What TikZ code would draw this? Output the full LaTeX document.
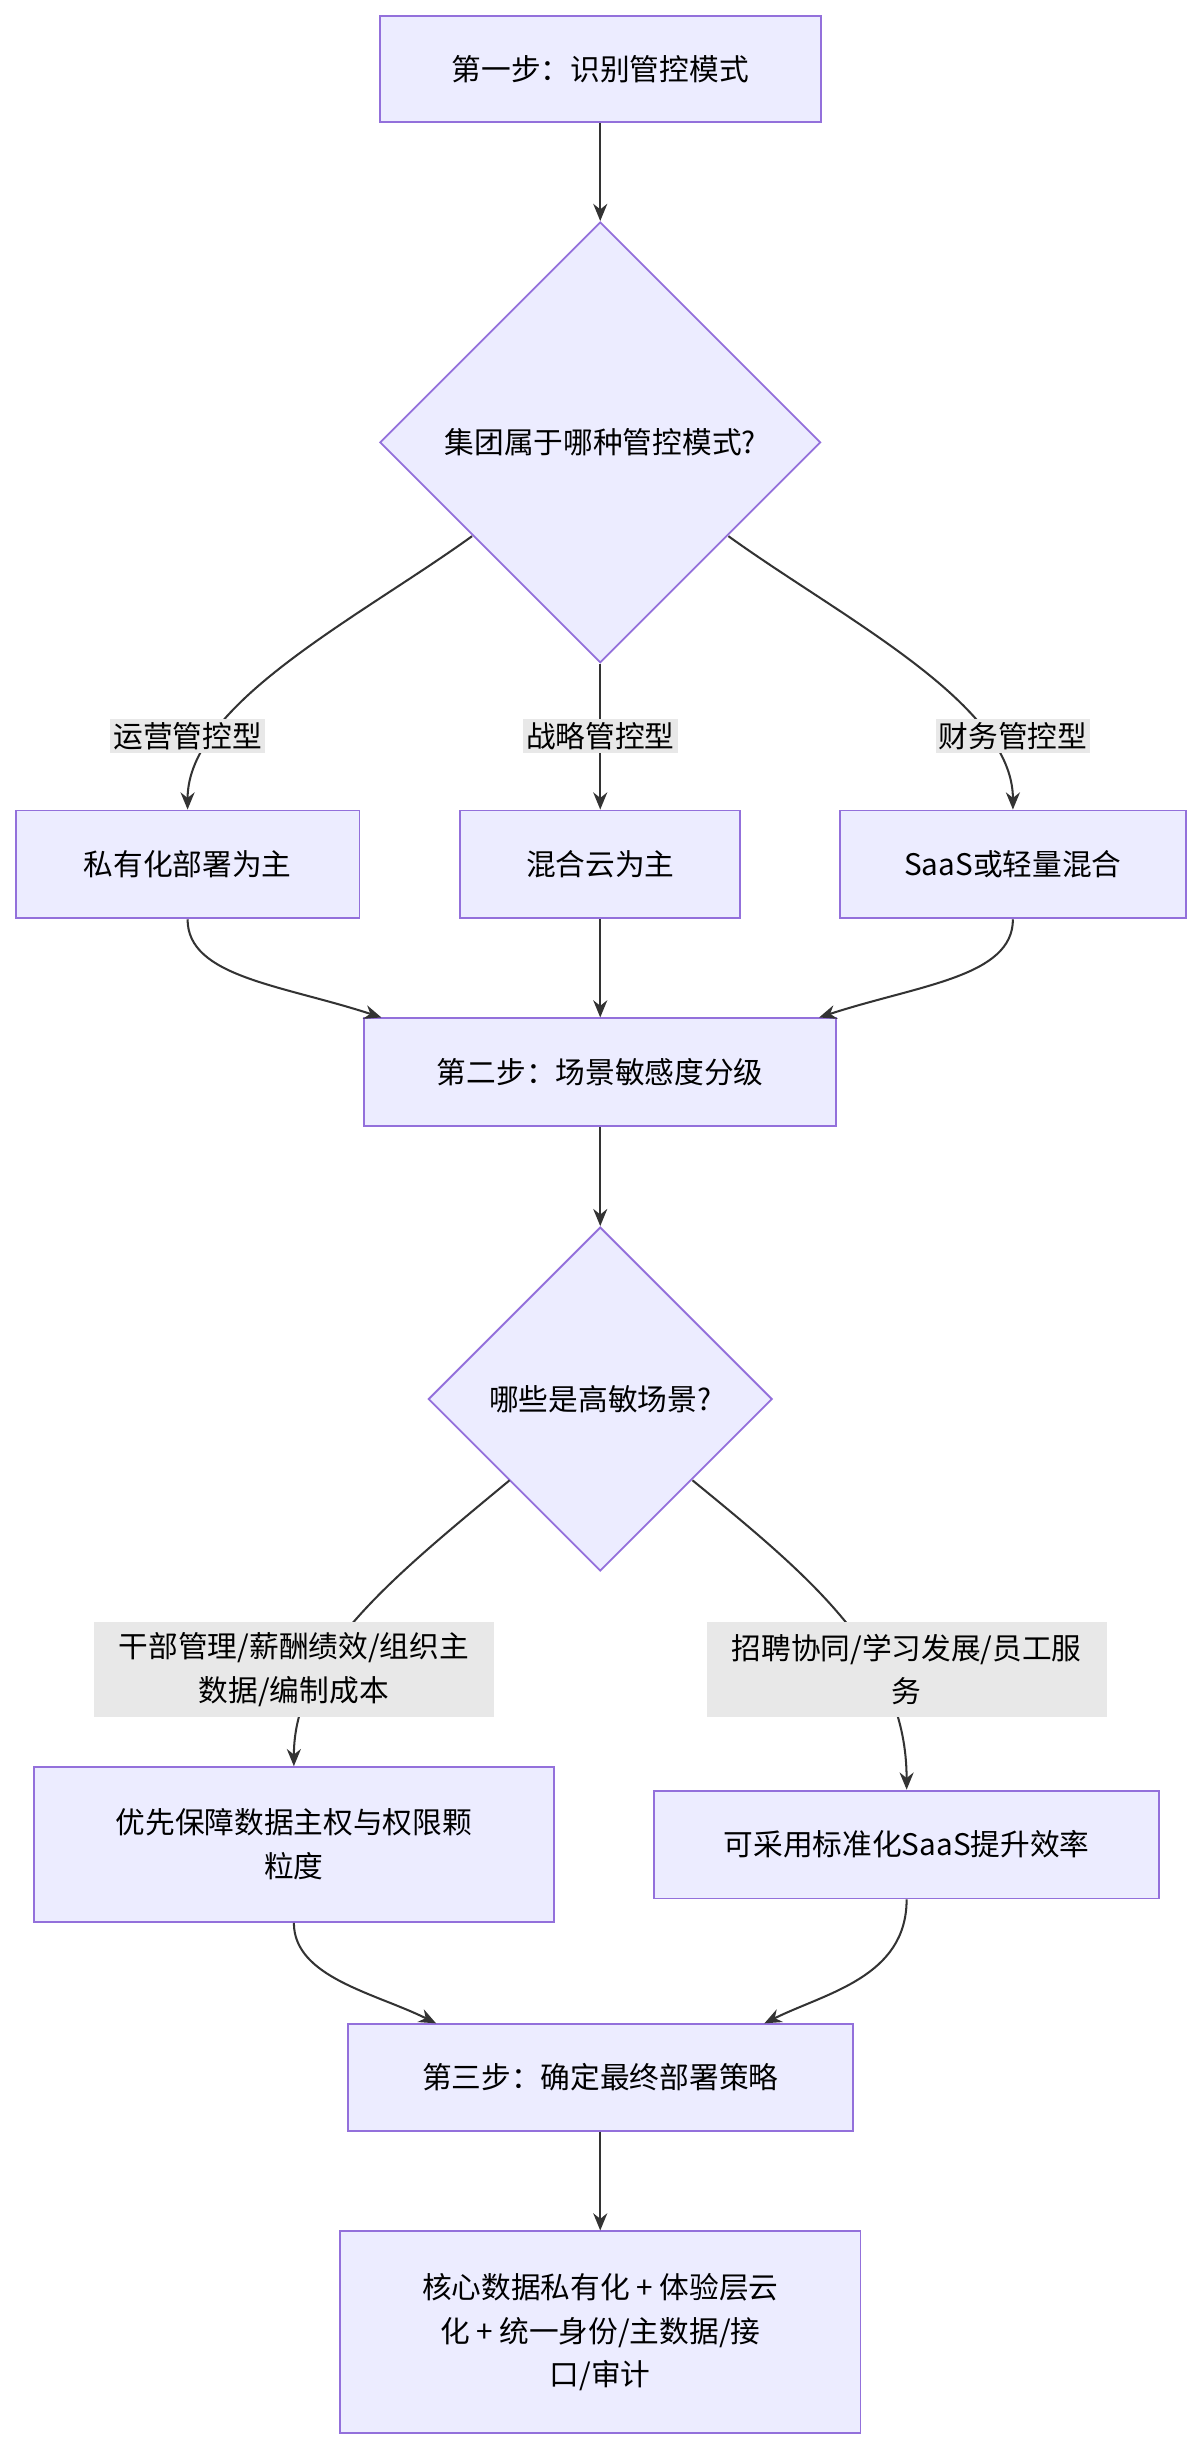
\documentclass[tikz,border=0pt]{standalone}
\usepackage{fontspec}
\setmainfont{Noto Sans CJK SC}
\usetikzlibrary{shapes.geometric,arrows.meta,calc}
\definecolor{nf}{HTML}{ECECFF}
\definecolor{ns}{HTML}{9370DB}
\definecolor{ed}{HTML}{333333}
\definecolor{lb}{HTML}{E8E8E8}
\begin{document}
\begin{tikzpicture}[x=1pt,y=-1pt,
 box/.style={draw=ns,fill=nf,line width=1.2pt,font=\fontsize{19}{28}\selectfont,align=center,inner sep=0pt},
 dia/.style={diamond,draw=ns,fill=nf,line width=1.2pt,font=\fontsize{19}{28}\selectfont,inner sep=0pt,aspect=1},
 lab/.style={fill=lb,font=\fontsize{19}{28}\selectfont,align=center,inner sep=2pt},
 arr/.style={draw=ed,line width=1.3pt,-{Stealth[length=11pt,width=9pt]}}]
\useasboundingbox (0,0) rectangle (768,1568);
\node[box,minimum width=282,minimum height=68] (s1) at (384,44) {第一步：识别管控模式};
\node[dia,minimum width=282,minimum height=282] (d1) at (384,283) {集团属于哪种管控模式?};
\node[box,minimum width=220,minimum height=69] (b1) at (120,553) {私有化部署为主};
\node[box,minimum width=179,minimum height=69] (b2) at (384,553) {混合云为主};
\node[box,minimum width=221,minimum height=69] (b3) at (648,553) {SaaS或轻量混合};
\node[box,minimum width=302,minimum height=69] (s2) at (384,686) {第二步：场景敏感度分级};
\node[dia,minimum width=220,minimum height=220] (d2) at (384,895) {哪些是高敏场景?};
\node[box,minimum width=333,minimum height=99] (b4) at (188,1180) {优先保障数据主权与权限颗\\粒度};
\node[box,minimum width=323,minimum height=69] (b5) at (580,1180) {可采用标准化SaaS提升效率};
\node[box,minimum width=323,minimum height=68] (s3) at (384,1329) {第三步：确定最终部署策略};
\node[box,minimum width=333,minimum height=129] (f) at (384,1492) {核心数据私有化 + 体验层云\\化 + 统一身份/主数据/接\\口/审计};
\coordinate (d1l) at (302,343); \coordinate (d1r) at (466,343);
\coordinate (d2l) at (326,947); \coordinate (d2r) at (443,947);
\draw[arr] (s1) -- (d1);
\draw[arr] (d1l) .. controls (230,395) and (120,450) .. (b1.north);
\draw[arr] (d1) -- (b2);
\draw[arr] (d1r) .. controls (538,395) and (648,450) .. (b3.north);
\node[lab] (l1) at (120,471) {运营管控型};
\node[lab] (l2) at (384,471) {战略管控型};
\node[lab] (l3) at (648,471) {财务管控型};
\draw[arr] (b1.south) .. controls (120,625) and (180,630) .. ($(s2.north)+(-140,0)$);
\draw[arr] (b2) -- (s2);
\draw[arr] (b3.south) .. controls (648,625) and (588,630) .. ($(s2.north)+(140,0)$);
\draw[arr] (s2) -- (d2);
\draw[arr] (d2l) .. controls (250,1010) and (188,1060) .. (b4.north);
\draw[arr] (d2r) .. controls (520,1010) and (580,1060) .. (b5.north);
\node[lab,minimum width=256,minimum height=61] (l4) at (188,1068) {干部管理/薪酬绩效/组织主\\数据/编制成本};
\node[lab,minimum width=256,minimum height=61] (l5) at (580,1068) {招聘协同/学习发展/员工服\\务};
\draw[arr] (b4.south) .. controls (188,1265) and (240,1275) .. ($(s3.north)+(-105,0)$);
\draw[arr] (b5.south) .. controls (580,1265) and (528,1275) .. ($(s3.north)+(105,0)$);
\draw[arr] (s3) -- (f);
\end{tikzpicture}
\end{document}
